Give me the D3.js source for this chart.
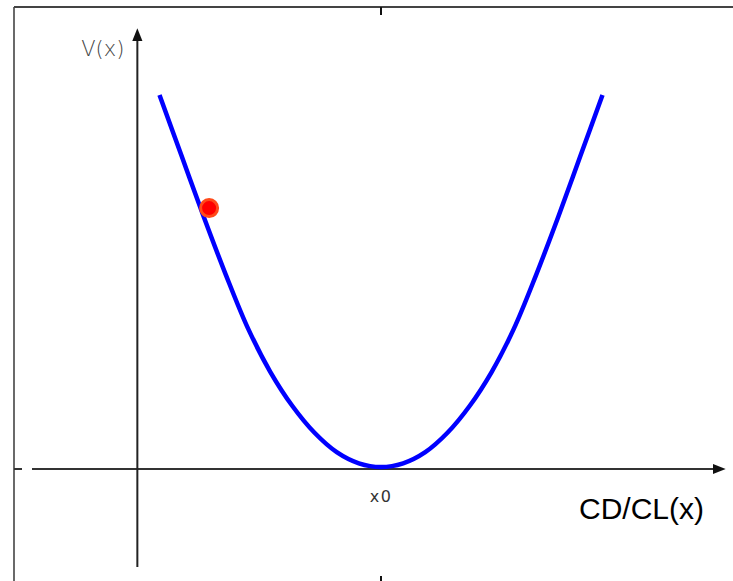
<!DOCTYPE html>
<html>
<head>
<meta charset="utf-8">
<script src="https://cdn.jsdelivr.net/npm/d3@7"></script>
<style>
  body { margin: 0; background: #fff; }
  svg { display: block; }
</style>
</head>
<body>
<svg></svg>
<script>
// curve samples (x relative to x0, V(x))
var xValues = [-5, -4.5, -4, -3.5, -3, -2.5, -2, -1.5, -1, -0.5, 0, 0.5, 1, 1.5, 2, 2.5, 3, 3.5, 4, 4.5, 5];
var vValues = [25.0, 20.9, 16.8, 12.9, 9.3, 6.4, 4.1, 2.3, 1.0, 0.25, 0, 0.25, 1.0, 2.3, 4.1, 6.4, 9.3, 12.9, 16.8, 20.9, 25.0];

// the red ball sitting on the left branch
var ballX = [-3.88];
var ballV = [17.4];

var axisLabels = ["V(x)", "CD/CL(x)"];
var tickLabels = ["x0"];

var viewWidth = 733;
var viewHeight = 581;

var svg = d3.select("svg")
    .attr("width", viewWidth)
    .attr("height", viewHeight);

var x = d3.scaleLinear()
    .domain([-5, 5])
    .range([159.5, 602.5]);

var y = d3.scaleLinear()
    .domain([0, 25])
    .range([467, 95]);

var frameLeft = 14, frameTop = 7;
var axisColor = "#333";

function drawChart() {
    var data = xValues.map(function(d, i) { return {x: d, v: vValues[i]}; });

    // frame (only left and top edges are visible)
    svg.append("line")
        .attr("x1", frameLeft).attr("y1", frameTop)
        .attr("x2", frameLeft).attr("y2", viewHeight)
        .attr("stroke", "#444").attr("stroke-width", 1.6);
    svg.append("line")
        .attr("x1", frameLeft).attr("y1", frameTop)
        .attr("x2", viewWidth).attr("y2", frameTop)
        .attr("stroke", "#444").attr("stroke-width", 2);

    // little frame ticks
    svg.append("line")
        .attr("x1", frameLeft).attr("y1", y(0) + 2)
        .attr("x2", frameLeft + 8).attr("y2", y(0) + 2)
        .attr("stroke", axisColor).attr("stroke-width", 2);
    svg.append("line")
        .attr("x1", x(0)).attr("y1", frameTop)
        .attr("x2", x(0)).attr("y2", frameTop + 8)
        .attr("stroke", "#111").attr("stroke-width", 2);
    svg.append("line")
        .attr("x1", x(0)).attr("y1", viewHeight - 5)
        .attr("x2", x(0)).attr("y2", viewHeight)
        .attr("stroke", "#111").attr("stroke-width", 2);

    var defs = svg.append("defs");
    defs.append("marker")
        .attr("id", "arrow")
        .attr("viewBox", "0 0 10 10")
        .attr("refX", 1).attr("refY", 5)
        .attr("markerWidth", 6.5).attr("markerHeight", 6.5)
        .attr("markerUnits", "strokeWidth")
        .attr("orient", "auto")
        .append("path")
        .attr("d", "M0,1L10,5L0,9Z")
        .attr("fill", "#111");

    // x axis
    var axisY = y(0) + 2;
    svg.append("line")
        .attr("x1", 32).attr("y1", axisY)
        .attr("x2", 714).attr("y2", axisY)
        .attr("stroke", axisColor)
        .attr("stroke-width", 2)
        .attr("marker-end", "url(#arrow)");

    // y axis
    var axisX = x(-5.5);
    svg.append("line")
        .attr("x1", axisX).attr("y1", 567)
        .attr("x2", axisX).attr("y2", 40)
        .attr("stroke", "#222")
        .attr("stroke-width", 2)
        .attr("marker-end", "url(#arrow)");

    // the curve
    svg.append("path")
        .datum(data)
        .attr("fill", "none")
        .attr("stroke", "#0000ff")
        .attr("stroke-width", 4.5)
        .attr("stroke-linecap", "butt")
        .attr("d", d3.line()
            .curve(d3.curveCatmullRom)
            .x(function(d) { return x(d.x); })
            .y(function(d) { return y(d.v); })
        );

    // ball
    svg.selectAll(".ball")
        .data(ballX)
        .enter().append("circle")
        .attr("class", "ball")
        .attr("cx", function(d) { return x(d); })
        .attr("cy", function(d, i) { return y(ballV[i]); })
        .attr("r", 8.5)
        .attr("fill", "#ff0000")
        .attr("stroke", "#ff4a1a")
        .attr("stroke-width", 3);

    // labels
    svg.append("text")
        .attr("x", axisX - 13)
        .attr("y", 56)
        .attr("text-anchor", "end")
        .style("font-family", "'DejaVu Sans', sans-serif")
        .style("font-size", "21px")
        .style("font-weight", 200)
        .style("fill", "#444")
        .text(axisLabels[0]);

    svg.append("text")
        .attr("x", x(0))
        .attr("y", 502)
        .attr("text-anchor", "middle")
        .style("font-family", "'DejaVu Sans', sans-serif")
        .style("font-size", "16px")
        .style("letter-spacing", "1.5px")
        .style("fill", "#333")
        .text(tickLabels[0]);

    svg.append("text")
        .attr("x", 704)
        .attr("y", 519)
        .attr("text-anchor", "end")
        .style("font-family", "'Liberation Sans', Arial, sans-serif")
        .style("font-size", "30px")
        .style("fill", "#000")
        .text(axisLabels[1]);
}

drawChart();
</script>
</body>
</html>
